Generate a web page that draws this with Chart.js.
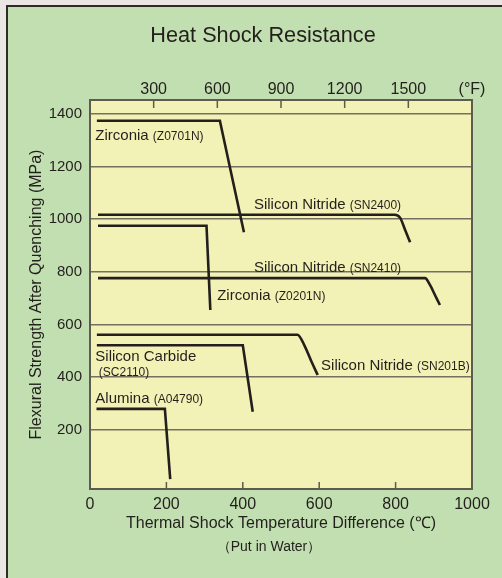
<!DOCTYPE html>
<html><head><meta charset="utf-8">
<style>html,body{margin:0;padding:0;background:#e9e6e3;}canvas{display:block;}</style>
<script src="https://cdn.jsdelivr.net/npm/chart.js@4/dist/chart.umd.min.js"></script>
</head><body>
<canvas id="c" width="502" height="578"></canvas>
<script>
// ---- data (°C, MPa) ----
const chartTitle = 'Heat Shock Resistance';
const xTicksC = [0, 200, 400, 600, 800, 1000];
const xTicksF = [300, 600, 900, 1200, 1500, 1800];
const yTicks = [200, 400, 600, 800, 1000, 1200, 1400];
const zirconiaZ0701N = [[18, 1374], [340, 1374], [403, 950]];
const siliconNitrideSN2400 = [[21, 1017], [798, 1017], [812, 1005], [825, 959], [838, 912]];
const zirconiaZ0201N = [[21, 975], [305, 975], [315, 655]];
const siliconNitrideSN2410 = [[21, 776], [877, 776], [890, 750], [903, 712], [916, 674]];
const siliconNitrideSN201B = [[18, 561], [543, 561], [563, 515], [580, 458], [596, 408]];
const siliconCarbideSC2110 = [[18, 521], [400, 521], [426, 268]];
const aluminaA04790 = [[17, 279], [196, 279], [210, 12]];

// ---- styling ----
const FONT = '"Liberation Sans", Arial, Helvetica, sans-serif';
const ink = '#231f1c';
const gridCol = '#74705f';
const frameCol = '#5e5a4f';
const greenBg = '#c2dfb2';
const plotBg = '#f2f2b6';

const series = [
  {data: zirconiaZ0701N, curved: false},
  {data: siliconNitrideSN2400, curved: true},
  {data: zirconiaZ0201N, curved: false},
  {data: siliconNitrideSN2410, curved: true},
  {data: siliconNitrideSN201B, curved: true},
  {data: siliconCarbideSC2110, curved: false},
  {data: aluminaA04790, curved: false}
];

// label anchors (left edge, cap centre) in data units
const seriesLabels = [
  {name: 'Zirconia', code: '(Z0701N)', at: [14, 1322]},
  {name: 'Silicon Nitride', code: '(SN2400)', at: [429, 1060]},
  {name: 'Silicon Nitride', code: '(SN2410)', at: [429, 819]},
  {name: 'Zirconia', code: '(Z0201N)', at: [333, 712]},
  {name: 'Silicon Nitride', code: '(SN201B)', at: [605, 447]},
  {name: 'Silicon Carbide', code: '', at: [14, 480]},
  {name: '', code: '(SC2110)', at: [23, 423]},
  {name: 'Alumina', code: '(A04790)', at: [14, 322]}
];

const bgPlugin = {
  id: 'bg',
  beforeDraw(chart) {
    const {ctx, chartArea: a} = chart;
    ctx.save();
    ctx.fillStyle = '#e9e6e3';
    ctx.fillRect(0, 0, chart.width, chart.height);
    ctx.fillStyle = '#2e2a26';
    ctx.fillRect(6, 5, chart.width, chart.height);
    ctx.fillStyle = greenBg;
    ctx.fillRect(8, 7, chart.width, chart.height);
    ctx.fillStyle = plotBg;
    ctx.fillRect(a.left, a.top, a.right - a.left, a.bottom - a.top);
    ctx.restore();
  },
  beforeDatasetsDraw(chart) {
    const {ctx, chartArea: a, scales} = chart;
    ctx.save();
    ctx.strokeStyle = frameCol;
    ctx.lineWidth = 2;
    ctx.strokeRect(a.left, a.top, a.right - a.left, a.bottom - a.top);
    ctx.lineWidth = 1.5;
    ctx.beginPath();
    xTicksC.slice(1, -1).forEach(v => {
      const px = scales.x.getPixelForValue(v);
      ctx.moveTo(px, a.bottom); ctx.lineTo(px, a.bottom - 7);
    });
    xTicksF.slice(0, -1).forEach(v => {
      const px = scales.x2.getPixelForValue(v);
      ctx.moveTo(px, a.top); ctx.lineTo(px, a.top + 8);
    });
    ctx.stroke();
    ctx.restore();
  },
  afterDraw(chart) {
    const {ctx, scales} = chart;
    ctx.save();
    ctx.fillStyle = ink;
    ctx.textBaseline = 'alphabetic';
    ctx.textAlign = 'center';
    ctx.font = '21.7px ' + FONT;
    ctx.fillText(chartTitle, 263, 42.3);
    ctx.font = '14px ' + FONT;
    ctx.fillText('（Put in Water）', 269, 551);
    ctx.textAlign = 'left';
    seriesLabels.forEach(l => {
      let x = scales.x.getPixelForValue(l.at[0]);
      const y = scales.y.getPixelForValue(l.at[1]) + 5.4;
      if (l.name) {
        ctx.font = '15px ' + FONT;
        ctx.fillText(l.name, x, y);
        x += ctx.measureText(l.name + ' ').width;
      }
      if (l.code) {
        ctx.font = '12px ' + FONT;
        ctx.fillText(l.code, x, y);
      }
    });
    ctx.restore();
  }
};

new Chart(document.getElementById('c'), {
  type: 'line',
  data: {
    datasets: series.map(s => ({
      data: s.data.map(([x, y]) => ({x, y})),
      borderColor: ink,
      borderWidth: 2.6,
      pointRadius: 0,
      fill: false,
      tension: 0,
      cubicInterpolationMode: s.curved ? 'monotone' : 'default',
      borderJoinStyle: 'miter'
    }))
  },
  options: {
    responsive: false,
    animation: false,
    devicePixelRatio: 1,
    layout: {padding: {left: 0, right: 30, top: 70, bottom: 0}},
    plugins: {legend: {display: false}, tooltip: {enabled: false}, title: {display: false}},
    scales: {
      x: {
        type: 'linear', position: 'bottom', min: 0, max: 1000,
        afterBuildTicks: s => { s.ticks = xTicksC.map(v => ({value: v})); },
        afterFit: s => { s.height = 89; },
        grid: {display: false, drawTicks: false},
        border: {display: false},
        ticks: {padding: 6.4, color: ink, font: {family: FONT, size: 16}, maxRotation: 0, autoSkip: false,
                callback: v => String(v)},
        title: {display: true, text: 'Thermal Shock Temperature Difference (℃)', color: ink,
                font: {family: FONT, size: 16}, padding: {top: 0, bottom: 45.1}}
      },
      x2: {
        type: 'linear', position: 'top', min: 0, max: 1800,
        afterBuildTicks: s => { s.ticks = xTicksF.map(v => ({value: v})); },
        afterFit: s => { s.height = 30; },
        grid: {display: false, drawTicks: false},
        border: {display: false},
        ticks: {padding: 0.4, color: ink, font: {family: FONT, size: 16}, maxRotation: 0, autoSkip: false,
                callback: v => v === 1800 ? '(°F)' : String(v)}
      },
      y: {
        type: 'linear', position: 'left', min: -25.5, max: 1453,
        afterBuildTicks: s => { s.ticks = yTicks.map(v => ({value: v})); },
        afterFit: s => { s.width = 90; },
        grid: {color: gridCol, lineWidth: 1.4, drawTicks: false},
        border: {display: false},
        ticks: {padding: 8, color: ink, font: {family: FONT, size: 15}, callback: v => String(v)},
        title: {display: true, text: 'Flexural Strength After Quenching (MPa)', color: ink,
                font: {family: FONT, size: 16}, padding: {top: 27.4, bottom: 0}}
      }
    }
  },
  plugins: [bgPlugin]
});
</script>
</body></html>
